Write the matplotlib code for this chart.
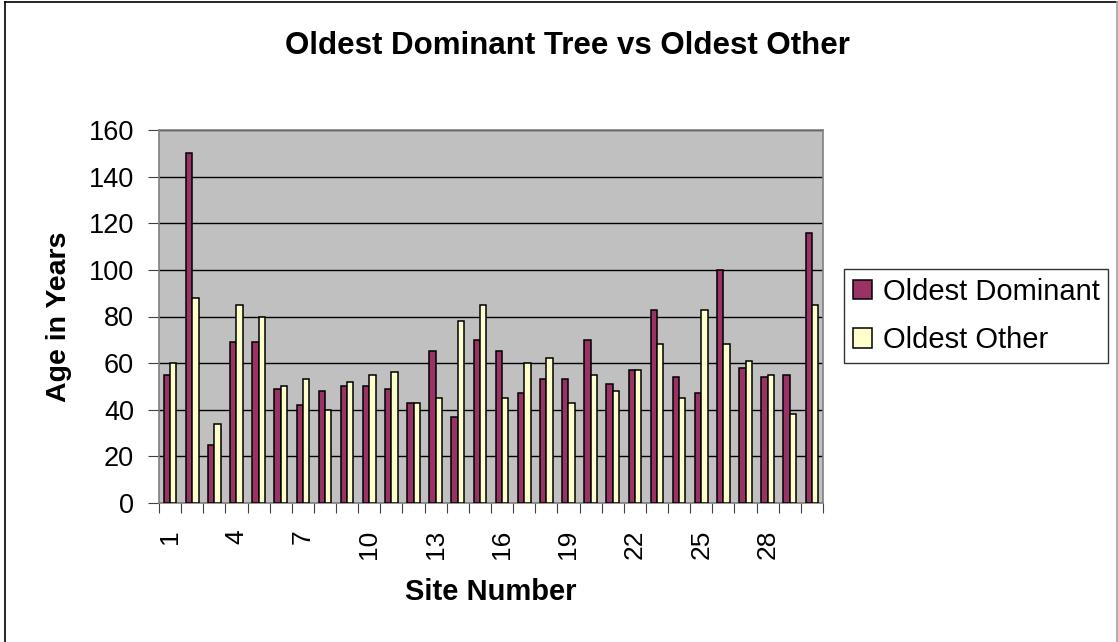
import numpy as np
import matplotlib
matplotlib.use("Agg")
import matplotlib.pyplot as plt
from matplotlib.lines import Line2D

plt.rcParams["font.family"] = ["Liberation Sans", "DejaVu Sans"]

# data
sites = list(range(1, 31))
oldest_dominant = [55, 150, 25, 69, 69, 49, 42, 48, 50, 50,
                   49, 43, 65, 37, 70, 65, 47, 53, 53, 70,
                   51, 57, 83, 54, 47, 100, 58, 54, 55, 116]
oldest_other = [60, 88, 34, 85, 80, 50, 53, 40, 52, 55,
                56, 43, 45, 78, 85, 45, 60, 62, 43, 55,
                48, 57, 68, 45, 83, 68, 61, 55, 38, 85]
y_ticks = [0, 20, 40, 60, 80, 100, 120, 140, 160]

W, H = 1118, 642
fig = plt.figure(figsize=(W / 100, H / 100), dpi=100)
ax = fig.add_axes([159 / W, 1 - 503 / H, (823 - 159) / W, (503 - 130) / H])
ax.set_facecolor("#C0C0C0")

x = np.arange(len(sites))
bw = 1 / 3.5  # excel gap width 150%
ax.bar(x - bw / 2, oldest_dominant, bw, color="#993366", edgecolor="black",
       linewidth=1.1, label="Oldest Dominant", zorder=3)
ax.bar(x + bw / 2, oldest_other, bw, color="#FFFFCC", edgecolor="black",
       linewidth=1.1, label="Oldest Other", zorder=3)

ax.set_xlim(-0.5, len(sites) - 0.5)
ax.set_ylim(0, 160)
ax.set_yticks(y_ticks)
ax.yaxis.grid(True, color="black", linewidth=1.0, zorder=1)
ax.set_axisbelow(True)

# category ticks sit between groups, labels every third site
ax.set_xticks(np.arange(len(sites) + 1) - 0.5)
ax.set_xticklabels([])
ax.set_xticks(x[::3], minor=True)
ax.set_xticklabels([str(s) for s in sites[::3]], minor=True, rotation=90,
                   fontsize=19)
ax.tick_params(axis="x", which="minor", length=0, pad=19)
ax.tick_params(axis="x", which="major", length=7, color="#404040")
ax.tick_params(axis="y", length=8, pad=10, labelsize=19.5, color="#404040")

for s in ax.spines.values():
    s.set_color("#808080")
    s.set_linewidth(1.2)

ax.set_xlabel("Site Number", fontsize=21, fontweight="bold", labelpad=14)
ax.set_ylabel("Age in Years", fontsize=20.5, fontweight="bold", labelpad=12)
fig.text(567 / W, 1 - 46 / H, "Oldest Dominant Tree vs Oldest Other",
         ha="center", va="center", fontsize=22.5, fontweight="bold")

leg = fig.legend(loc="upper left", bbox_to_anchor=(844 / W, 1 - 269 / H),
                 fontsize=21, frameon=True, fancybox=False, shadow=False,
                 handlelength=0.65, handleheight=0.65, handletextpad=0.38,
                 borderpad=0.3, labelspacing=0.7, borderaxespad=0)
leg.get_frame().set_edgecolor("black")
leg.get_frame().set_linewidth(1.0)

# outer chart border (bottom edge cropped in the reference)
fig.add_artist(Line2D([5 / W, 5 / W], [0, 1 - 2 / H], color="black", lw=1.2))
fig.add_artist(Line2D([5 / W, 1117 / W], [1 - 2 / H, 1 - 2 / H], color="black", lw=1.2))
fig.add_artist(Line2D([1116.5 / W, 1116.5 / W], [0, 1 - 2 / H], color="#A0A0A0", lw=1.2))

fig.savefig("out.png", dpi=100)
